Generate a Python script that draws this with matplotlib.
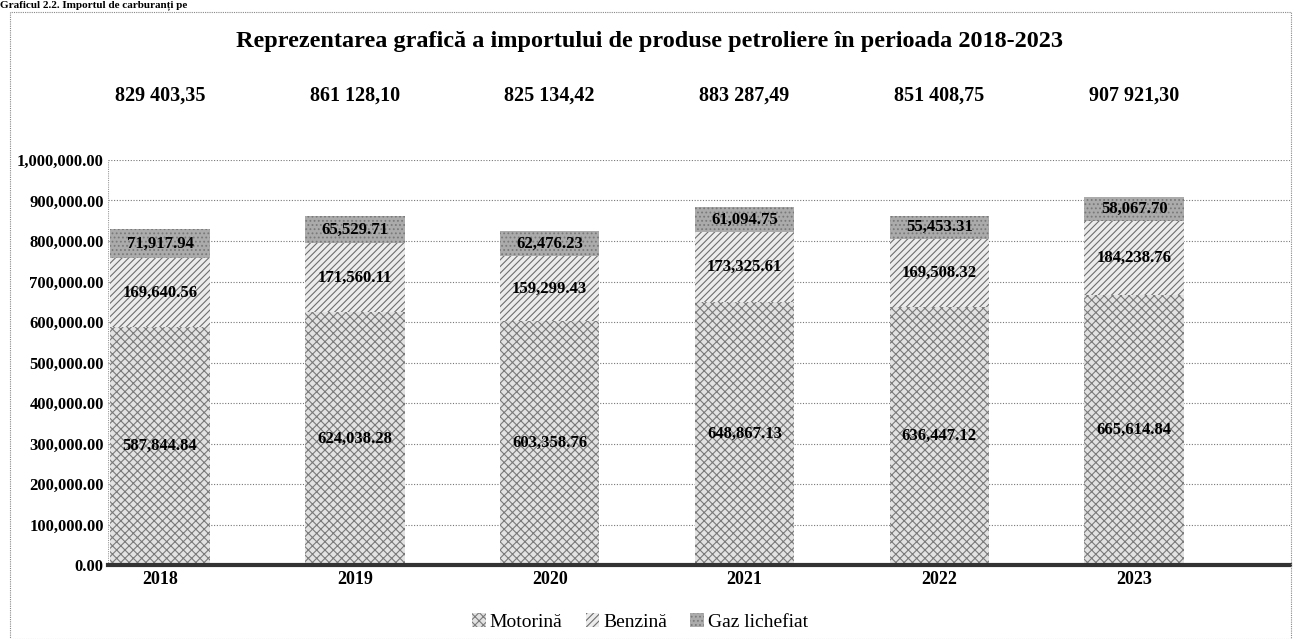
import matplotlib
matplotlib.use("Agg")
import matplotlib.pyplot as plt
from matplotlib.patches import Rectangle
from matplotlib.ticker import FuncFormatter
import numpy as np

plt.rcParams['hatch.linewidth'] = 0.8

years = ["2018", "2019", "2020", "2021", "2022", "2023"]
motorina = [587844.84, 624038.28, 603358.76, 648867.13, 636447.12, 665614.84]
benzina = [169640.56, 171560.11, 159299.43, 173325.61, 169508.32, 184238.76]
gaz = [71917.94, 65529.71, 62476.23, 61094.75, 55453.31, 58067.70]
totals = ["829 403,35", "861 128,10", "825 134,42", "883 287,49", "851 408,75", "907 921,30"]
series_names = ["Motorină", "Benzină", "Gaz lichefiat"]
title = "Reprezentarea grafică a importului de produse petroliere în perioada 2018-2023"

W, H = 1294, 639
fig = plt.figure(figsize=(W / 100, H / 100), dpi=100)
serif = ["Liberation Serif", "DejaVu Serif"]

ax = fig.add_axes([108 / W, 1 - 565 / H, (1290 - 108) / W, (565 - 160) / H])
x = np.arange(len(years))
width = 0.51

b1 = ax.bar(x, motorina, width, color="#e2e2e2", edgecolor="#7a7a7a", hatch="xxxx", linewidth=0, zorder=2)
bottom2 = np.array(motorina)
b2 = ax.bar(x, benzina, width, bottom=bottom2, color="#ececec", edgecolor="#6e6e6e", hatch="/////", linewidth=0, zorder=2)
bottom3 = bottom2 + np.array(benzina)
b3 = ax.bar(x, gaz, width, bottom=bottom3, color="#ababab", edgecolor="#7a7a7a", hatch="....", linewidth=0, zorder=2)

def fmt(v):
    return f"{v:,.2f}"

for i in x:
    ax.text(i, motorina[i] / 2, fmt(motorina[i]), ha="center", va="center", family=serif,
            fontsize=12, fontweight="bold", zorder=3)
    ax.text(i, bottom2[i] + benzina[i] / 2, fmt(benzina[i]), ha="center", va="center", family=serif,
            fontsize=12, fontweight="bold", zorder=3)
    ax.text(i, bottom3[i] + gaz[i] / 2, fmt(gaz[i]), ha="center", va="center", family=serif,
            fontsize=12, fontweight="bold", zorder=3)
    ax.text(i, 1.16, totals[i], transform=ax.get_xaxis_transform(), ha="center", va="center",
            family=serif, fontsize=14.5, fontweight="bold")

ax.set_xlim(-0.267, 5.80)
ax.set_ylim(0, 1000000)
ax.set_yticks(np.arange(0, 1000001, 100000))
ax.yaxis.set_major_formatter(FuncFormatter(lambda v, p: f"{v:,.2f}"))
ax.set_xticks(x)
ax.set_xticklabels(years)
for lab in ax.get_yticklabels() + ax.get_xticklabels():
    lab.set_family(serif)
    lab.set_fontweight("bold")
ax.tick_params(axis="y", length=0, labelsize=12, pad=3)
ax.tick_params(axis="x", length=0, labelsize=13, pad=4)
ax.grid(axis="y", linestyle=(0, (1, 1.5)), color="#777777", linewidth=0.8, zorder=0)
for s in ["top", "right", "left"]:
    ax.spines[s].set_visible(False)
ax.spines["bottom"].set_linewidth(3)
ax.spines["bottom"].set_color("#333333")
ax.axvline(-0.267, ymin=0, ymax=1, color="#999999", linestyle=(0, (1, 1)), linewidth=0.8)

fig.text(650 / W, 1 - 42 / H, title, ha="center", va="center", family=serif,
         fontsize=17.5, fontweight="bold")

leg = fig.legend([b1, b2, b3], series_names, loc="center", bbox_to_anchor=(640 / W, 1 - 622 / H),
                 ncol=3, frameon=False, prop={"family": serif, "size": 14},
                 handlelength=0.7, handleheight=0.7, handletextpad=0.2, columnspacing=1.2)

fig.text(0.0, 1.0, "Graficul 2.2. Importul de carburanți pe", ha="left", va="top",
         family=serif, fontsize=8, fontweight="bold")

fig.add_artist(Rectangle((10 / W, 0), (1291 - 10) / W, 1 - 12 / H, transform=fig.transFigure,
                         fill=False, edgecolor="#888888", linestyle=(0, (1, 1)), linewidth=0.8))

fig.savefig("out.png", dpi=100)
